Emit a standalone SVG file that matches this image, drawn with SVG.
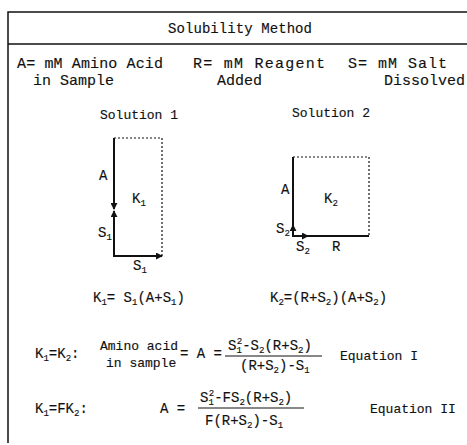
<svg xmlns="http://www.w3.org/2000/svg" width="467" height="445" viewBox="0 0 467 445">
<style>
text{font-family:"Liberation Mono","DejaVu Sans Mono",monospace;fill:#111;stroke:#111;stroke-width:0.15;font-size:14px}
.m{font-size:13px}
.lg{font-size:15px}
.frame{stroke:#111;stroke-width:1.5;fill:none}
.solid{stroke:#111;stroke-width:2;fill:none}
.dot{stroke:#111;stroke-width:1.2;stroke-dasharray:2 2;fill:none}
.bar{stroke:#111;stroke-width:1;fill:none}
</style>
<defs>
<marker id="ah" viewBox="0 0 8 8" refX="7" refY="4" markerWidth="7" markerHeight="7" orient="auto" markerUnits="userSpaceOnUse"><path d="M0,0 L8,4 L0,8 z" fill="#111"/></marker>
</defs>
<g id="frame">
<path class="frame" d="M8,443 V12 H467 M8,44 H467"/>
</g>
<g id="title"><text x="240" y="33" text-anchor="middle" textLength="144" lengthAdjust="spacing">Solubility Method</text></g>
<g id="legend">
<text class="lg" x="17" y="68" textLength="146" lengthAdjust="spacing">A= mM Amino Acid</text>
<text class="lg" x="33" y="85">in Sample</text>
<text class="lg" x="193" y="68" textLength="132" lengthAdjust="spacing">R= mM Reagent</text>
<text class="lg" x="217" y="85">Added</text>
<text class="lg" x="348" y="68" textLength="99" lengthAdjust="spacing">S= mM Salt</text>
<text class="lg" x="384" y="85">Dissolved</text>
</g>
<g id="solution1">
<text class="m" x="100" y="119">Solution 1</text>
<path class="dot" d="M114,138 H162 V256"/>
<text x="99" y="180">A</text>
<text x="132" y="203">K<tspan dy="3" font-size="9">1</tspan></text>
<text x="98" y="237">S<tspan dy="3" font-size="9">1</tspan></text>
<text x="133" y="270">S<tspan dy="3" font-size="9">1</tspan></text>
</g>
<g id="solution2">
<text class="m" x="292" y="117">Solution 2</text>
<path class="dot" d="M293,157 H369 V236"/>
<text x="281" y="194">A</text>
<text x="324" y="203">K<tspan dy="3" font-size="9">2</tspan></text>
<text x="276" y="233">S<tspan dy="3" font-size="9">2</tspan></text>
<text x="296" y="251">S<tspan dy="3" font-size="9">2</tspan></text>
<text x="332" y="251">R</text>
</g>
<g id="connectors">
<line class="solid" x1="114" y1="138" x2="114" y2="209" marker-end="url(#ah)"/>
<line class="solid" x1="114" y1="256" x2="114" y2="211" marker-end="url(#ah)"/>
<line class="solid" x1="113" y1="256" x2="162" y2="256" marker-end="url(#ah)"/>
<line class="solid" x1="293" y1="157" x2="293" y2="225"/>
<line class="solid" x1="293" y1="236" x2="293" y2="225" marker-end="url(#ah)"/>
<line class="solid" x1="292" y1="236" x2="308" y2="236" marker-end="url(#ah)"/>
<line class="solid" x1="306" y1="236" x2="369" y2="236" stroke-width="2.5"/>
</g>
<g id="equations">
<text x="93" y="302">K<tspan dy="3" font-size="9">1</tspan><tspan dy="-3">= S</tspan><tspan dy="3" font-size="9">1</tspan><tspan dy="-3">(A+S</tspan><tspan dy="3" font-size="9">1</tspan><tspan dy="-3">)</tspan></text>
<text x="270" y="302">K<tspan dy="3" font-size="9">2</tspan><tspan dy="-3">=(R+S</tspan><tspan dy="3" font-size="9">2</tspan><tspan dy="-3">)(A+S</tspan><tspan dy="3" font-size="9">2</tspan><tspan dy="-3">)</tspan></text>

<text x="35" y="358">K<tspan dy="3" font-size="9">1</tspan><tspan dy="-3">=K</tspan><tspan dy="3" font-size="9">2</tspan><tspan dy="-3">:</tspan></text>
<text class="m" x="100" y="350">Amino acid</text>
<text class="m" x="106" y="367">in sample</text>
<text x="180" y="358">= A =</text>
<text x="228" y="350">S<tspan dy="3" font-size="9">1</tspan><tspan dy="-9" dx="-5" font-size="9">2</tspan><tspan dy="6">-S</tspan><tspan dy="3" font-size="9">2</tspan><tspan dy="-3">(R+S</tspan><tspan dy="3" font-size="9">2</tspan><tspan dy="-3">)</tspan></text>
<line class="bar" x1="225" y1="356" x2="322" y2="356"/>
<text x="240" y="370">(R+S<tspan dy="3" font-size="9">2</tspan><tspan dy="-3">)-S</tspan><tspan dy="3" font-size="9">1</tspan></text>
<text class="m" x="340" y="360">Equation I</text>

<text x="35" y="413">K<tspan dy="3" font-size="9">1</tspan><tspan dy="-3">=FK</tspan><tspan dy="3" font-size="9">2</tspan><tspan dy="-3">:</tspan></text>
<text x="160" y="413">A =</text>
<text x="200" y="402">S<tspan dy="3" font-size="9">1</tspan><tspan dy="-9" dx="-5" font-size="9">2</tspan><tspan dy="6">-FS</tspan><tspan dy="3" font-size="9">2</tspan><tspan dy="-3">(R+S</tspan><tspan dy="3" font-size="9">2</tspan><tspan dy="-3">)</tspan></text>
<line class="bar" x1="198" y1="408" x2="304" y2="408"/>
<text x="205" y="425">F(R+S<tspan dy="3" font-size="9">2</tspan><tspan dy="-3">)-S</tspan><tspan dy="3" font-size="9">1</tspan></text>
<text class="m" x="370" y="413">Equation II</text>
</g>
</svg>
